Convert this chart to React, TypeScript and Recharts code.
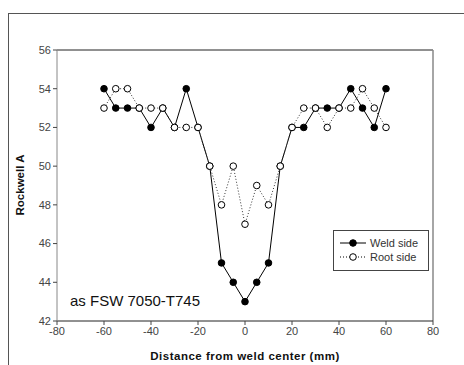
import React from 'react';
import { LineChart, Line, XAxis, YAxis, ReferenceLine } from 'recharts';

const distances = [-60, -55, -50, -45, -40, -35, -30, -25, -20, -15, -10, -5, 0, 5, 10, 15, 20, 25, 30, 35, 40, 45, 50, 55, 60];
const weldSide = [54, 53, 53, 53, 52, 53, 52, 54, 52, 50, 45, 44, 43, 44, 45, 50, 52, 52, 53, 53, 53, 54, 53, 52, 54];
const rootSide = [53, 54, 54, 53, 53, 53, 52, 52, 52, 50, 48, 50, 47, 49, 48, 50, 52, 53, 53, 52, 53, 53, 54, 53, 52];
const xTicks = [-80, -60, -40, -20, 0, 20, 40, 60, 80];
const yTicks = [42, 44, 46, 48, 50, 52, 54, 56];

const data = distances.map((d, i) => ({ d, weld: weldSide[i], root: rootSide[i] }));

const FONT = 'Arial, "Liberation Sans", sans-serif';
const tickStyle = { fill: '#444', fontSize: 11, fontFamily: FONT };

const legendItems = [
  { label: 'Weld side', dash: undefined, fill: '#000' },
  { label: 'Root side', dash: '1 2', fill: '#fff' },
];

const LegendBox: React.FC = () => (
  <div
    style={{
      position: 'absolute',
      left: 333,
      top: 230,
      border: '1px solid #444',
      width: 94,
      height: 39,
      background: '#fff',
      fontFamily: FONT,
      fontSize: 11,
      color: '#333',
    }}
  >
    {legendItems.map((it, i) => (
      <div key={i} style={{ display: 'flex', alignItems: 'center', height: 14, marginTop: i === 0 ? 5 : 0 }}>
        <svg width={26} height={10} style={{ marginLeft: 6, marginRight: 4 }}>
          <line x1={0} y1={5} x2={26} y2={5} stroke="#000" strokeWidth={1} strokeDasharray={it.dash} />
          <circle cx={13} cy={5} r={3.3} fill={it.fill} stroke="#000" strokeWidth={1} />
        </svg>
        <span>{it.label}</span>
      </div>
    ))}
  </div>
);

const App: React.FC = () => {
  return (
    <div style={{ position: 'absolute', left: 0, top: 0, width: 464, height: 365, background: '#fff' }}>
      <div
        style={{
          position: 'absolute',
          left: 8,
          top: 13,
          width: 456,
          height: 352,
          borderLeft: '1px solid #555',
          borderTop: '1px solid #555',
        }}
      />
      <LineChart width={464} height={365} data={data} margin={{ top: 50, right: 31, bottom: 14, left: 17 }}>
        <XAxis
          dataKey="d"
          type="number"
          domain={[-80, 80]}
          ticks={xTicks}
          tick={tickStyle}
          tickSize={4}
          tickLine={{ stroke: '#444' }}
          axisLine={{ stroke: '#222' }}
          height={30}
          interval={0}
        />
        <YAxis
          domain={[42, 56]}
          ticks={yTicks}
          tick={tickStyle}
          tickSize={4}
          tickLine={{ stroke: '#444' }}
          axisLine={{ stroke: '#888' }}
          width={40}
          interval={0}
        />
        <ReferenceLine y={56} stroke="#222" strokeWidth={1} ifOverflow="visible" />
        <ReferenceLine x={80} stroke="#888" strokeWidth={1.5} ifOverflow="visible" />
        <Line
          dataKey="weld"
          name="Weld side"
          stroke="#000"
          strokeWidth={1}
          dot={{ r: 3.3, fill: '#000', stroke: '#000', strokeWidth: 1 }}
          isAnimationActive={false}
        />
        <Line
          dataKey="root"
          name="Root side"
          stroke="#333"
          strokeWidth={1}
          strokeDasharray="1 2"
          dot={{ r: 3.3, fill: '#fff', stroke: '#000', strokeWidth: 1, strokeDasharray: '' }}
          isAnimationActive={false}
        />
      </LineChart>
      <LegendBox />
      <div
        style={{
          position: 'absolute',
          left: 70,
          top: 292,
          fontFamily: FONT,
          fontSize: 15,
          color: '#111',
          whiteSpace: 'nowrap',
        }}
      >
        as FSW 7050-T745
      </div>
      <div
        style={{
          position: 'absolute',
          left: 20,
          top: 185,
          transform: 'translate(-50%, -50%) rotate(-90deg)',
          fontFamily: FONT,
          fontSize: 11.5,
          fontWeight: 'bold',
          color: '#111',
          whiteSpace: 'nowrap',
        }}
      >
        Rockwell A
      </div>
      <div
        style={{
          position: 'absolute',
          left: 245,
          top: 350,
          transform: 'translateX(-50%)',
          fontFamily: FONT,
          fontSize: 11.5,
          fontWeight: 'bold',
          letterSpacing: 0.5,
          color: '#111',
          whiteSpace: 'nowrap',
        }}
      >
        Distance from weld center (mm)
      </div>
    </div>
  );
};

export default App;
